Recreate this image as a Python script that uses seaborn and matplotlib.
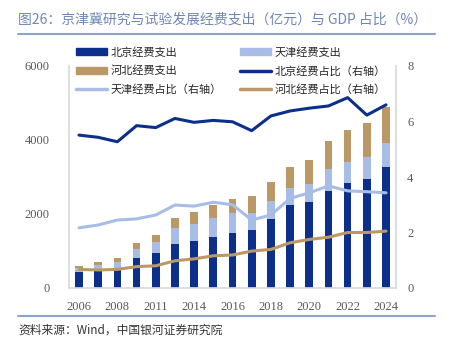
import numpy as np
import pandas as pd
import matplotlib
matplotlib.use("Agg")
import matplotlib.pyplot as plt
import seaborn as sns
from matplotlib.patches import Patch
from matplotlib.lines import Line2D

years = ["2006", "2007", "2008", "2010", "2011", "2013", "2014", "2015", "2016",
         "2017", "2018", "2019", "2020", "2021", "2022", "2023", "2024"]
beijing_exp = [433, 505, 550, 822, 937, 1185, 1269, 1384, 1485, 1580, 1871, 2234, 2327, 2629, 2843, 2947, 3280]
tianjin_exp = [95, 114, 150, 229, 298, 428, 465, 510, 537, 458, 492, 463, 485, 588, 572, 603, 631]
hebei_exp = [77, 90, 109, 155, 201, 282, 313, 351, 383, 452, 499, 566, 634, 746, 849, 919, 973]
beijing_ratio = [5.51, 5.43, 5.27, 5.85, 5.78, 6.11, 5.97, 6.04, 5.99, 5.67, 6.20, 6.38, 6.48, 6.56, 6.86, 6.23, 6.60]
tianjin_ratio = [2.17, 2.27, 2.45, 2.49, 2.63, 2.99, 2.95, 3.09, 3.00, 2.45, 2.63, 3.23, 3.43, 3.68, 3.50, 3.47, 3.43]
hebei_ratio = [0.67, 0.65, 0.67, 0.77, 0.80, 0.98, 1.05, 1.16, 1.19, 1.33, 1.39, 1.63, 1.75, 1.83, 2.00, 2.00, 2.05]
tick_labels = ["2006", "", "2008", "", "2011", "", "2014", "", "2016", "", "2018", "", "2020", "", "2022", "", "2024"]

C_BJ = "#0c2f8c"
C_TJ = "#a8bde6"
C_HB = "#bb9966"
GREY = "#595959"

sns.set_theme(style="white")
plt.rcParams["font.family"] = ["Noto Sans CJK SC", "DejaVu Sans"]

df = pd.DataFrame({"year": years, "bj": beijing_exp, "tj": tianjin_exp, "hb": hebei_exp,
                   "bjr": beijing_ratio, "tjr": tianjin_ratio, "hbr": hebei_ratio})
df["bj_tj"] = df["bj"] + df["tj"]
df["total"] = df["bj_tj"] + df["hb"]
df["idx"] = np.arange(len(df))

fig = plt.figure(figsize=(4.49, 3.46), dpi=100)
ax = fig.add_axes([69/449, 1-288/346, (396-69)/449, (288-66)/346])

bw = 0.4
sns.barplot(data=df, x="year", y="total", color=C_HB, width=bw, ax=ax, saturation=1, edgecolor="none")
sns.barplot(data=df, x="year", y="bj_tj", color=C_TJ, width=bw, ax=ax, saturation=1, edgecolor="none")
sns.barplot(data=df, x="year", y="bj", color=C_BJ, width=bw, ax=ax, saturation=1, edgecolor="none")

ax.set_ylim(0, 6000)
ax.set_yticks([0, 2000, 4000, 6000])
ax.set_xlim(-0.52, 16.52)
ax.set_xticks(np.arange(len(years)))
ax.set_xticklabels(tick_labels)
ax.set_xlabel("")
ax.set_ylabel("")

ax2 = ax.twinx()
sns.lineplot(data=df, x="idx", y="bjr", color=C_BJ, lw=2.2, ax=ax2)
sns.lineplot(data=df, x="idx", y="tjr", color=C_TJ, lw=2.2, ax=ax2)
sns.lineplot(data=df, x="idx", y="hbr", color=C_HB, lw=2.2, ax=ax2)
ax2.set_ylim(0, 8)
ax2.set_yticks([0, 2, 4, 6, 8])
ax2.set_xlim(-0.52, 16.52)
ax2.set_ylabel("")
ax2.set_xlabel("")

num_font = "Liberation Serif"
for a in (ax, ax2):
    for s in a.spines.values():
        s.set_visible(False)
    a.tick_params(length=0, labelsize=9, colors=GREY)
    for lab in a.get_xticklabels() + a.get_yticklabels():
        lab.set_fontfamily(num_font)
ax.spines["left"].set_visible(True)
ax.spines["left"].set_color("#d9d9d9")
ax.spines["bottom"].set_visible(True)
ax.spines["bottom"].set_color("#d9d9d9")
ax2.spines["right"].set_visible(True)
ax2.spines["right"].set_color("#d9d9d9")
ax.tick_params(axis="y", pad=14)
ax.tick_params(axis="x", pad=9)
ax2.tick_params(axis="y", pad=8)

handles = [
    Patch(color=C_BJ, label="北京经费支出"),
    Patch(color=C_HB, label="河北经费支出"),
    Line2D([], [], color=C_TJ, lw=2.5, label="天津经费占比（右轴）"),
    Patch(color=C_TJ, label="天津经费支出"),
    Line2D([], [], color=C_BJ, lw=2.5, label="北京经费占比（右轴）"),
    Line2D([], [], color=C_HB, lw=2.5, label="河北经费占比（右轴）"),
]
fig.legend(handles=handles, ncol=2, loc="upper left", bbox_to_anchor=(76/449, 1-47/346),
           frameon=False, fontsize=8, handlelength=2.8, handleheight=0.6, handletextpad=0.35,
           columnspacing=1.6, labelspacing=0.72, borderpad=0, borderaxespad=0,
           labelcolor="#262626")

fig.text(18/449, 1-20/346, "图26：京津冀研究与试验发展经费支出（亿元）与 GDP 占比（%）",
         fontsize=10, color="#6f86b8", va="center", ha="left")
fig.add_artist(Line2D([18/449, 435/449], [1-34/346, 1-34/346], color="#8fa3cc", lw=1.5))
fig.add_artist(Line2D([18/449, 435/449], [1-316/346, 1-316/346], color="#8fa3cc", lw=1.5))
fig.text(18/449, 1-330/346, "资料来源：Wind，中国银河证券研究院", fontsize=8.5, color="#333333",
         va="center", ha="left", style="italic")

fig.savefig("out.png", dpi=100)
